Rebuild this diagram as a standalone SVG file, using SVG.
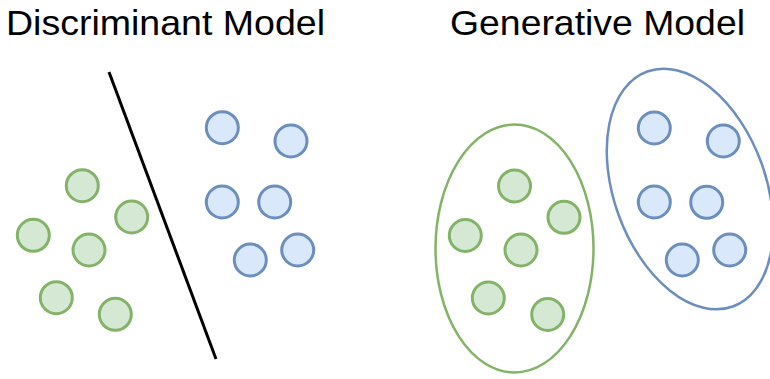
<svg xmlns="http://www.w3.org/2000/svg" width="770" height="379" viewBox="0 0 770 379">
<style>
.g{fill:#d5e8d4;stroke:#82b366;stroke-width:3}
.b{fill:#dae8fc;stroke:#6c8ebf;stroke-width:3}
.ge{fill:none;stroke:#82b366;stroke-width:2.5}
.be{fill:none;stroke:#6c8ebf;stroke-width:2.5}
.t{font-family:"Liberation Sans",Arial,sans-serif;font-size:35px;fill:#000}
</style>
<rect width="770" height="379" fill="#fff"/>
<g id="title-discriminant"><text class="t" x="6" y="35" textLength="319" lengthAdjust="spacingAndGlyphs">Discriminant Model</text></g>
<g id="title-generative"><text class="t" x="450" y="35" textLength="295" lengthAdjust="spacingAndGlyphs">Generative Model</text></g>
<g id="connectors"><line x1="109" y1="72" x2="216" y2="359" stroke="#000" stroke-width="3"/></g>
<g id="disc-green">
<circle class="g" cx="82.3" cy="185.7" r="16"/>
<circle class="g" cx="131.7" cy="217" r="16"/>
<circle class="g" cx="33.3" cy="235.3" r="16"/>
<circle class="g" cx="89" cy="250" r="16"/>
<circle class="g" cx="56.3" cy="297.7" r="16"/>
<circle class="g" cx="115.3" cy="314.3" r="16"/>
</g>
<g id="disc-blue">
<circle class="b" cx="222.3" cy="127.7" r="16"/>
<circle class="b" cx="291" cy="141" r="16"/>
<circle class="b" cx="222.3" cy="202" r="16"/>
<circle class="b" cx="274.7" cy="202" r="16"/>
<circle class="b" cx="250.3" cy="260" r="16"/>
<circle class="b" cx="297.7" cy="250" r="16"/>
</g>
<g id="gen-green">
<ellipse class="ge" cx="514.5" cy="248.5" rx="79" ry="124"/>
<circle class="g" cx="514.5" cy="186" r="16"/>
<circle class="g" cx="564" cy="217.3" r="16"/>
<circle class="g" cx="465.3" cy="235.5" r="16"/>
<circle class="g" cx="521" cy="250" r="16"/>
<circle class="g" cx="488.3" cy="298" r="16"/>
<circle class="g" cx="547.7" cy="314.5" r="16"/>
</g>
<g id="gen-blue">
<ellipse class="be" cx="690" cy="189" rx="76" ry="125" transform="rotate(-20 690 189)"/>
<circle class="b" cx="654.3" cy="128" r="16"/>
<circle class="b" cx="723.3" cy="141" r="16"/>
<circle class="b" cx="654.3" cy="202" r="16"/>
<circle class="b" cx="706.7" cy="202.3" r="16"/>
<circle class="b" cx="682.3" cy="260" r="16"/>
<circle class="b" cx="729.7" cy="250" r="16"/>
</g>
</svg>
